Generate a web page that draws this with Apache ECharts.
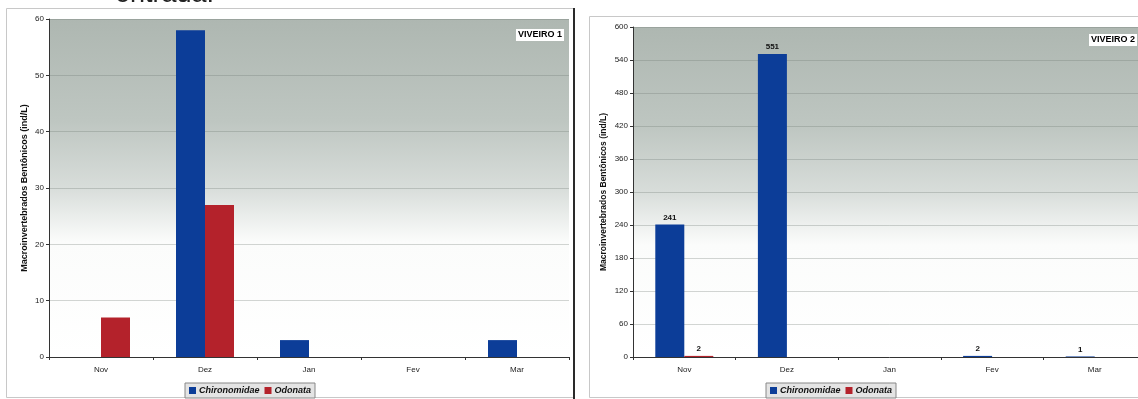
<!DOCTYPE html>
<html>
<head>
<meta charset="utf-8">
<script src="https://cdn.jsdelivr.net/npm/echarts@6/dist/echarts.min.js"></script>
<style>
  html, body { margin: 0; padding: 0; background: #fff; overflow: hidden; }
  #chart { width: 1160px; height: 399px; }
</style>
</head>
<body>
<div id="chart"></div>
<script>
// Months sampled
const months = ['Nov', 'Dez', 'Jan', 'Fev', 'Mar'];
const seriesNames = ['Chironomidae', 'Odonata'];

// Viveiro 1 densities (ind/L)
const v1Chironomidae = [0, 58, 3, 0, 3];
const v1Odonata = [7, 27, 0, 0, 0];

// Viveiro 2 densities (ind/L)
const v2Chironomidae = [241, 551, 0, 2, 1];
const v2Odonata = [2, 0, 0, 0, 0];

// Y axis scales
const v1Axis = { min: 0, max: 60, interval: 10 };
const v2Axis = { min: 0, max: 600, interval: 60 };

const yName = 'Macroinvertebrados Bentônicos (ind/L)';
const FONT = '"Liberation Sans", Arial, sans-serif';
const BLUE = '#0c3d98';
const RED = '#b4222b';

const chart = echarts.init(document.getElementById('chart'));

function plotBg() {
  return new echarts.graphic.LinearGradient(0, 0, 0, 1, [
    { offset: 0, color: '#aeb7b1' },
    { offset: 0.3, color: '#bec6c1' },
    { offset: 0.5, color: '#d8ddda' },
    { offset: 0.66, color: '#fbfcfb' },
    { offset: 1, color: '#ffffff' }
  ]);
}

function xAxisCfg(gridIndex) {
  return {
    type: 'category', gridIndex, data: months,
    axisLine: { lineStyle: { color: '#333', width: 1 } },
    axisTick: { show: true, length: 3, lineStyle: { color: '#333' } },
    axisLabel: { fontFamily: FONT, fontSize: 8, color: '#222', margin: 9 }
  };
}

function yAxisCfg(gridIndex, scale, nameGap, nameSize) {
  return {
    type: 'value', gridIndex,
    min: scale.min, max: scale.max, interval: scale.interval,
    name: yName, nameLocation: 'middle', nameGap,
    nameTextStyle: { fontFamily: FONT, fontSize: nameSize, fontWeight: 'bold', color: '#111' },
    axisLine: { show: true, lineStyle: { color: '#333' } },
    axisTick: { show: true, length: 3, lineStyle: { color: '#333' } },
    axisLabel: { fontFamily: FONT, fontSize: 8, color: '#222', margin: 5 },
    splitLine: { show: true, lineStyle: { color: 'rgba(110,120,114,0.3)', width: 1 } }
  };
}

const valueLabel = {
  show: true, position: 'top', distance: 3,
  fontFamily: FONT, fontSize: 8, fontWeight: 'bold', color: '#111',
  formatter: p => (p.value > 0 ? String(p.value) : '')
};

function legendCfg(left) {
  return {
    left, top: 383, orient: 'horizontal',
    data: seriesNames,
    icon: 'rect', itemWidth: 7, itemHeight: 7, itemGap: 5,
    padding: [3, 4, 3, 4],
    borderColor: '#888', borderWidth: 1, backgroundColor: '#e4e4e4',
    textStyle: { fontFamily: FONT, fontSize: 9, fontWeight: 'bold', fontStyle: 'italic', color: '#111', padding: [0, 0, 0, -2] }
  };
}

const option = {
  animation: false,
  backgroundColor: '#ffffff',
  color: [BLUE, RED],
  grid: [
    { left: 49, top: 19, width: 520, height: 338, show: true, borderWidth: 0, backgroundColor: plotBg() },
    { left: 633, top: 27, width: 513, height: 330, show: true, borderWidth: 0, backgroundColor: plotBg() }
  ],
  xAxis: [xAxisCfg(0), xAxisCfg(1)],
  yAxis: [yAxisCfg(0, v1Axis, 20, 9), yAxisCfg(1, v2Axis, 25, 8.5)],
  legend: [legendCfg(185), legendCfg(766)],
  series: [
    { name: seriesNames[0], type: 'bar', xAxisIndex: 0, yAxisIndex: 0, data: v1Chironomidae,
      barWidth: 29, barGap: '0%', itemStyle: { color: BLUE } },
    { name: seriesNames[1], type: 'bar', xAxisIndex: 0, yAxisIndex: 0, data: v1Odonata,
      barWidth: 29, barGap: '0%', itemStyle: { color: RED } },
    { name: seriesNames[0], type: 'bar', xAxisIndex: 1, yAxisIndex: 1, data: v2Chironomidae,
      barWidth: 29, barGap: '0%', itemStyle: { color: BLUE }, label: valueLabel },
    { name: seriesNames[1], type: 'bar', xAxisIndex: 1, yAxisIndex: 1, data: v2Odonata,
      barWidth: 29, barGap: '0%', itemStyle: { color: RED }, label: valueLabel }
  ],
  graphic: [
    // page text line above the figure, cut by the top edge
    { type: 'text', x: 115, y: -19, silent: true,
      style: { text: 'entrada.', font: '27px ' + FONT, fill: '#222', verticalAlign: 'top' } },
    // panel frames
    { type: 'rect', silent: true, z: -10,
      shape: { x: 6.5, y: 8.5, width: 567, height: 389 },
      style: { fill: 'none', stroke: '#c8c8c8', lineWidth: 1 } },
    { type: 'line', silent: true,
      shape: { x1: 574, y1: 8, x2: 574, y2: 399 },
      style: { stroke: '#2a2a2a', lineWidth: 2 } },
    { type: 'rect', silent: true, z: -10,
      shape: { x: 589.5, y: 16.5, width: 565, height: 381 },
      style: { fill: 'none', stroke: '#c8c8c8', lineWidth: 1 } },
    // panel titles
    { type: 'text', x: 564, y: 35, silent: true, z: 10,
      style: { text: 'VIVEIRO 1', font: 'bold 9px ' + FONT, fill: '#000', align: 'right', verticalAlign: 'middle',
               backgroundColor: '#ffffff', padding: [2, 2, 1, 2] } },
    { type: 'text', x: 1089, y: 40, silent: true, z: 10,
      style: { text: 'VIVEIRO 2', font: 'bold 9px ' + FONT, fill: '#000', align: 'left', verticalAlign: 'middle',
               backgroundColor: '#ffffff', padding: [2, 2, 1, 2] } }
  ]
};

chart.setOption(option);
</script>
</body>
</html>
